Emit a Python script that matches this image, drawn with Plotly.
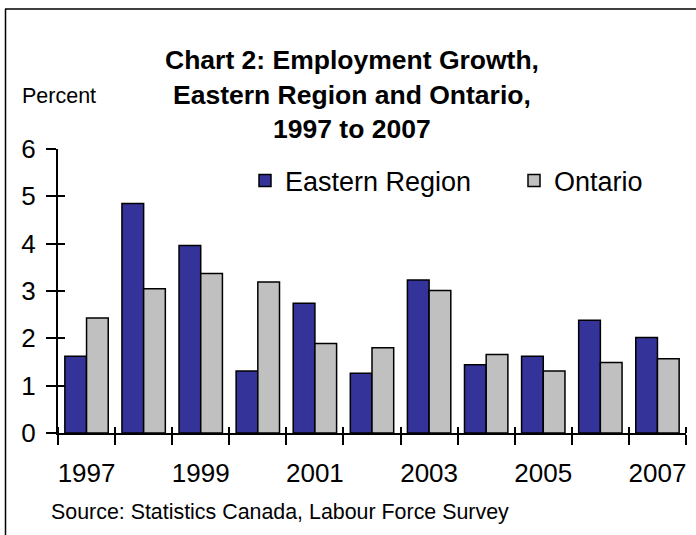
import plotly.graph_objects as go

years = [1997, 1998, 1999, 2000, 2001, 2002, 2003, 2004, 2005, 2006, 2007]
eastern = [1.62, 4.85, 3.96, 1.31, 2.74, 1.26, 3.23, 1.44, 1.62, 2.38, 2.02]
ontario = [2.43, 3.05, 3.37, 3.19, 1.89, 1.80, 3.01, 1.66, 1.31, 1.49, 1.57]
label_years = [1997, 1999, 2001, 2003, 2005, 2007]
title_lines = ["Chart 2: Employment Growth,", "Eastern Region and Ontario,", "1997 to 2007"]

W, H = 696, 535
L, R, T, B = 58, 10, 149, 102
pw, ph = W - L - R, H - T - B

font = "Liberation Sans, Arial, sans-serif"


def px(x):
    return (x - L) / pw


def py(y):
    return (H - B - y) / ph


fig = go.Figure()
fig.add_trace(go.Bar(x=years, y=eastern, name="Eastern Region", legend="legend",
                     marker=dict(color="#333399", line=dict(color="black", width=1.5))))
fig.add_trace(go.Bar(x=years, y=ontario, name="Ontario", legend="legend2",
                     marker=dict(color="#C0C0C0", line=dict(color="black", width=1.5))))

leg = dict(xanchor="left", yanchor="middle", font=dict(size=27), bgcolor="rgba(0,0,0,0)")
fig.update_layout(
    width=W, height=H,
    margin=dict(l=L, r=R, t=T, b=B),
    paper_bgcolor="white", plot_bgcolor="white",
    font=dict(family=font, size=26, color="black"),
    barmode="group", bargap=0.24, bargroupgap=0,
    showlegend=True,
    legend=dict(x=px(245), y=py(181), **leg),
    legend2=dict(x=px(514), y=py(181), **leg),
    xaxis=dict(range=[1996.5, 2007.5], tickvals=label_years, ticks="",
               showline=True, linecolor="black", linewidth=2, showgrid=False, zeroline=False,
               ticklabelstandoff=16,
               minor=dict(tickmode="linear", tick0=1996.5, dtick=1, ticks="outside",
                          ticklen=10, tickwidth=2, tickcolor="black", showgrid=False)),
    yaxis=dict(range=[0, 6], dtick=1, ticks="outside", ticklen=10, tickwidth=2,
               tickcolor="black", showline=True, linecolor="black", linewidth=2,
               showgrid=False, zeroline=False, ticklabelstandoff=5),
    xaxis2=dict(overlaying="x", range=[1996.5, 2007.5], showticklabels=False, ticks="",
                showgrid=False, zeroline=False,
                minor=dict(tickmode="linear", tick0=1996.5, dtick=1, ticks="inside",
                           ticklen=6, tickwidth=2, tickcolor="black", showgrid=False)),
    yaxis2=dict(overlaying="y", range=[0, 6], dtick=1, ticks="inside", ticklen=7,
                tickwidth=2, tickcolor="black", showticklabels=False,
                showgrid=False, zeroline=False),
)

# invisible trace so the overlay axes get drawn
fig.add_trace(go.Scatter(x=[2000], y=[0], xaxis="x2", yaxis="y2", mode="markers",
                         marker=dict(opacity=0), showlegend=False, hoverinfo="skip"))

for i, line in enumerate(title_lines):
    fig.add_annotation(text="<b>" + line + "</b>", xref="paper", yref="paper",
                       x=px(352), y=py(60 + 34.5 * i), xanchor="center", yanchor="middle",
                       showarrow=False, font=dict(size=26.5))

fig.add_annotation(text="Percent", xref="paper", yref="paper",
                   x=px(19.5), y=py(96), xanchor="left", yanchor="middle",
                   showarrow=False, font=dict(size=21.5))
fig.add_annotation(text="Source: Statistics Canada, Labour Force Survey", xref="paper", yref="paper",
                   x=px(49), y=py(512), xanchor="left", yanchor="middle",
                   showarrow=False, font=dict(size=21.4))

# outer frame (only top and left edges are visible)
fig.add_shape(type="line", xref="paper", yref="paper",
              x0=px(5), x1=px(W), y0=py(9), y1=py(9),
              line=dict(color="black", width=1.5))
fig.add_shape(type="line", xref="paper", yref="paper",
              x0=px(5.5), x1=px(5.5), y0=py(9), y1=py(H),
              line=dict(color="black", width=1.5))

# the page body has a default 8px margin; drop it so the figure sits at 0,0
fig.write_html("out.html", config={"displayModeBar": False},
               post_script="document.body.style.margin='0';")
